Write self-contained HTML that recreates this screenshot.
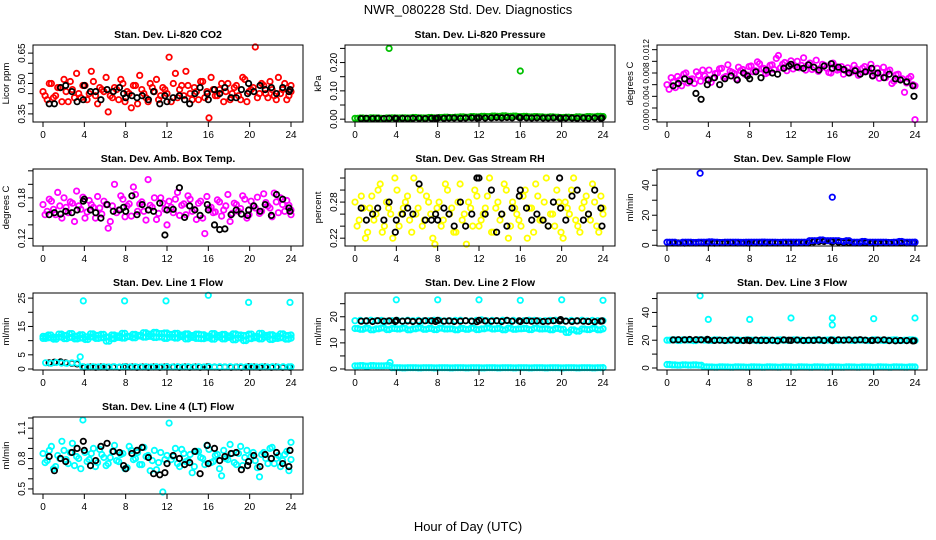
<!DOCTYPE html>
<html><head><meta charset="utf-8"><style>
body{margin:0;background:#fff}
svg{display:block;font-family:"Liberation Sans",sans-serif}
</style></head><body>
<svg id="c" width="936" height="540" viewBox="0 0 936 540">
<text x="468" y="14" text-anchor="middle" font-size="13">NWR_080228  Std. Dev. Diagnostics</text>
<text x="468" y="531" text-anchor="middle" font-size="13">Hour of Day (UTC)</text>
</svg>
<script>
const xTicks=[0,4,8,12,16,20,24];
const blackH=[0.6,1.1,1.7,2.2,2.8,3.3,3.9,4.0,4.6,5.1,5.6,6.2,6.8,7.4,7.8,8.0,8.6,9.1,9.6,10.2,10.7,11.3,11.8,12.0,12.6,13.2,13.7,14.2,14.7,15.2,15.9,16.0,16.6,17.1,17.6,18.2,18.7,19.2,19.8,19.9,20.4,21.0,21.5,22.1,22.6,23.2,23.8,23.9];
// CO2
const co2A=[0.46,0.42,0.50,0.44,0.48,0.52,0.41,0.47,0.55,0.43,0.49,0.45,0.51,0.40,0.47,0.53,0.44,0.48,0.42,0.50,0.46,0.38,0.49,0.54,0.45,0.41,0.48,0.52,0.44,0.47,0.63,0.50,0.43,0.49,0.56,0.45,0.48,0.42,0.51,0.46,0.53,0.44,0.47,0.41,0.50,0.45,0.49,0.42,0.52,0.46,0.48,0.43,0.50,0.45,0.51,0.44,0.53,0.47,0.42,0.49];
const co2B=[0.44,0.50,0.43,0.48,0.41,0.46,0.51,0.43,0.45,0.49,0.42,0.56,0.44,0.48,0.46,0.36,0.43,0.47,0.52,0.41,0.45,0.49,0.40,0.47,0.43,0.50,0.46,0.42,0.48,0.45,0.41,0.55,0.47,0.44,0.49,0.42,0.46,0.51,0.43,0.33,0.47,0.44,0.50,0.46,0.42,0.48,0.44,0.53,0.41,0.47,0.68,0.45,0.49,0.43,0.47,0.42,0.45,0.50,0.44,0.46];
const co2K=[0.40,0.40,0.48,0.49,0.46,0.41,0.42,0.49,0.46,0.46,0.42,0.47,0.46,0.48,0.45,0.43,0.44,0.43,0.44,0.42,0.46,0.40,0.44,0.41,0.43,0.44,0.42,0.40,0.45,0.48,0.45,0.42,0.47,0.45,0.48,0.43,0.43,0.47,0.45,0.50,0.46,0.49,0.47,0.48,0.45,0.48,0.46,0.47];
// Pressure
const presG=[0.003,0.004,0.003,0.005,0.004,0.003,0.004,0.005,0.004,0.005,0.004,0.006,0.005,0.004,0.006,0.005,0.006,0.007,0.006,0.007,0.008,0.007,0.009,0.008,0.010,0.009,0.011,0.010,0.012,0.010,0.011,0.009,0.010,0.008,0.009,0.008,0.007,0.008,0.007,0.006,0.007,0.006,0.008,0.007,0.009,0.008,0.010,0.009];
const presOutH=[3.3,16.0], presOutV=[0.25,0.17];
const presK=[0.002,0.003,0.002,0.003,0.002,0.003,0.003,0.002,0.003,0.002,0.003,0.003,0.002,0.003,0.003,0.004,0.003,0.004,0.004,0.003,0.004,0.005,0.004,0.005,0.004,0.005,0.006,0.005,0.006,0.005,0.006,0.005,0.005,0.004,0.005,0.004,0.004,0.005,0.004,0.003,0.004,0.004,0.003,0.004,0.003,0.004,0.003,0.004];
// Temp
const tmpA=[0.0060,0.0072,0.0055,0.0068,0.0078,0.0063,0.0070,0.0082,0.0066,0.0075,0.0085,0.0071,0.0080,0.0088,0.0074,0.0083,0.0079,0.0090,0.0086,0.0077,0.0092,0.0084,0.0096,0.0088,0.0081,0.0094,0.0105,0.0089,0.0098,0.0091,0.0087,0.0100,0.0093,0.0085,0.0097,0.0090,0.0083,0.0095,0.0088,0.0080,0.0092,0.0086,0.0078,0.0089,0.0082,0.0087,0.0079,0.0091,0.0084,0.0076,0.0088,0.0081,0.0072,0.0085,0.0066,0.0078,0.0070,0.0063,0.0074,0.0058];
const tmpB=[0.0052,0.0065,0.0074,0.0058,0.0080,0.0069,0.0062,0.0076,0.0085,0.0070,0.0064,0.0079,0.0087,0.0072,0.0094,0.0081,0.0070,0.0084,0.0078,0.0091,0.0082,0.0099,0.0087,0.0079,0.0093,0.0086,0.0110,0.0095,0.0084,0.0101,0.0092,0.0089,0.0106,0.0094,0.0086,0.0102,0.0088,0.0093,0.0081,0.0097,0.0085,0.0091,0.0084,0.0080,0.0093,0.0076,0.0088,0.0083,0.0095,0.0079,0.0071,0.0090,0.0083,0.0062,0.0077,0.0069,0.0047,0.0071,0.0060,0.0000];
const tmpK=[0.0058,0.0062,0.0070,0.0066,0.0045,0.0035,0.0060,0.0068,0.0072,0.0060,0.0070,0.0075,0.0068,0.0080,0.0075,0.0070,0.0082,0.0072,0.0085,0.0080,0.0078,0.0088,0.0092,0.0095,0.0090,0.0088,0.0094,0.0090,0.0085,0.0092,0.0096,0.0088,0.0090,0.0086,0.0080,0.0084,0.0078,0.0082,0.0088,0.0075,0.0080,0.0072,0.0078,0.0070,0.0068,0.0065,0.0058,0.0040];
// Amb box
const ambA=[0.170,0.160,0.175,0.155,0.168,0.180,0.158,0.172,0.190,0.163,0.150,0.176,0.166,0.182,0.156,0.170,0.145,0.200,0.162,0.178,0.168,0.153,0.185,0.171,0.160,0.207,0.166,0.148,0.180,0.163,0.175,0.158,0.188,0.169,0.155,0.178,0.163,0.172,0.150,0.182,0.166,0.159,0.174,0.162,0.185,0.157,0.170,0.164,0.178,0.155,0.168,0.181,0.160,0.173,0.165,0.187,0.158,0.170,0.176,0.162];
const ambB=[0.155,0.178,0.163,0.188,0.150,0.166,0.174,0.145,0.168,0.181,0.159,0.170,0.150,0.165,0.175,0.135,0.168,0.158,0.183,0.152,0.171,0.196,0.160,0.174,0.147,0.169,0.180,0.157,0.172,0.140,0.166,0.178,0.154,0.171,0.183,0.160,0.148,0.175,0.127,0.165,0.158,0.177,0.153,0.168,0.145,0.172,0.160,0.183,0.150,0.175,0.165,0.157,0.186,0.168,0.152,0.174,0.180,0.160,0.169,0.155];
const ambK=[0.155,0.158,0.156,0.160,0.158,0.162,0.175,0.178,0.162,0.158,0.150,0.170,0.160,0.162,0.166,0.160,0.183,0.155,0.170,0.162,0.160,0.172,0.125,0.162,0.163,0.195,0.151,0.168,0.162,0.154,0.170,0.162,0.140,0.133,0.134,0.155,0.162,0.156,0.154,0.162,0.168,0.160,0.170,0.154,0.185,0.178,0.165,0.160];
// RH
const rhA=[0.28,0.25,0.27,0.23,0.29,0.26,0.31,0.24,0.27,0.22,0.30,0.26,0.28,0.25,0.32,0.27,0.24,0.29,0.26,0.21,0.28,0.25,0.30,0.27,0.23,0.31,0.26,0.28,0.24,0.29,0.25,0.27,0.32,0.23,0.28,0.26,0.30,0.24,0.27,0.25,0.29,0.22,0.27,0.31,0.25,0.28,0.24,0.26,0.30,0.23,0.28,0.26,0.32,0.24,0.27,0.29,0.25,0.28,0.23,0.27];
const rhB=[0.24,0.29,0.22,0.27,0.25,0.30,0.23,0.28,0.26,0.32,0.24,0.27,0.29,0.23,0.26,0.30,0.25,0.28,0.22,0.27,0.24,0.31,0.26,0.23,0.28,0.25,0.21,0.27,0.30,0.24,0.26,0.29,0.23,0.27,0.25,0.31,0.22,0.28,0.26,0.24,0.30,0.27,0.23,0.29,0.25,0.32,0.26,0.24,0.28,0.22,0.27,0.30,0.25,0.23,0.28,0.26,0.31,0.24,0.29,0.26];
const rhK=[0.27,0.25,0.26,0.27,0.25,0.28,0.23,0.25,0.26,0.27,0.26,0.31,0.25,0.25,0.26,0.25,0.27,0.26,0.24,0.28,0.24,0.26,0.32,0.32,0.26,0.30,0.23,0.26,0.24,0.27,0.29,0.30,0.27,0.25,0.26,0.25,0.24,0.28,0.32,0.27,0.25,0.29,0.30,0.25,0.26,0.30,0.27,0.24];
// Sample flow
const sfB=[2,2,1.5,2,2,1.8,2,2,2.2,2,1.8,2,2,2,1.9,2,2,2,2.1,2,2,1.9,2,2,2,2,2,3,3,3.5,3,3,3,2.5,3,2,2,2.5,2,2,2,2,1.8,2,2.5,2,2,2];
const sfK=[1.5,1.5,1.4,1.5,1.5,1.6,1.5,1.5,1.4,1.5,1.5,1.6,1.5,1.5,1.5,1.4,1.5,1.5,1.5,1.6,1.5,1.5,1.5,1.5,1.5,1.6,1.5,2.2,2.5,2.5,2.4,2.2,2.0,1.8,1.6,1.5,1.5,1.6,1.5,1.5,1.4,1.5,1.5,1.6,1.5,1.5,1.5,1.5];
const sfOutH=[3.2,16.0], sfOutV=[48,32];
// Line 1
const l1A=[11.5,12.0,11.2,12.3,11.8,12.5,11.6,12.1,11.4,12.4,11.9,12.2,11.3,12.0,11.7,12.6,11.5,12.2,11.9,12.8,12.3,12.9,12.5,12.7,12.2,12.6,12.0,12.4,11.8,12.3,12.1,11.6,12.5,11.9,12.2,11.7,12.4,12.0,11.8,12.3,11.5,12.6,11.9,12.1,11.6,12.4,11.8,12.0];
const l1B=[10.8,11.0,10.5,11.2,10.7,11.1,10.6,10.9,10.4,11.3,10.8,11.0,9.8,10.7,11.1,10.9,11.4,11.0,11.6,11.2,11.5,11.1,11.3,10.8,11.2,10.9,11.4,10.6,11.1,10.8,10.7,11.0,10.5,11.2,10.6,11.1,10.3,10.9,10.0,10.7,11.0,10.6,11.2,10.4,10.8,11.0,10.5,10.9];
const l1Low=[2.2,2.0,2.3,2.1,2.0,2.2,2.1,0.8,0.7,0.8,0.7,0.8,0.7,0.8,0.7,0.8,0.7,0.8,0.7,0.8,0.7,0.8,0.7,0.8,0.7,0.8,0.7,0.8,0.7,0.8,0.7,0.8,0.7,0.8,0.7,0.8,0.7,0.8,0.7,0.8,0.7,0.8,0.7,0.8,0.7,0.8,0.7,0.8];
const l1K=[2.2,2.4,2.5,2.2,2.0,1.8,0.7,0.6,0.7,0.6,0.7,0.6,0.7,0.6,0.7,0.8,0.7,0.6,0.7,0.6,0.7,0.6,0.7,0.8,0.7,0.6,0.7,0.6,0.7,0.6,0.7,0.8,0.7,0.6,0.7,0.6,0.7,0.6,0.7,0.8,0.7,0.6,0.7,0.6,0.7,0.6,0.7,0.6];
const l1OutH=[3.6,3.9,7.9,11.9,16.0,19.9,23.9], l1OutV=[4.3,24,24,24,26,23.5,23.5];
// Line 2
const l2A=[18.5,18.6,18.4,18.7,18.5,18.6,18.3,18.5,18.6,18.4,18.7,18.5,18.6,18.4,18.5,18.7,18.6,18.4,18.5,18.6,18.7,18.5,18.4,18.6,18.8,18.5,18.6,18.4,18.7,18.5,18.6,18.4,18.5,18.7,18.6,18.4,18.5,18.6,18.7,18.5,18.4,18.6,18.5,18.7,18.4,18.6,18.5,18.5];
const l2B=[15.5,15.2,15.6,15.0,15.4,15.7,15.1,15.5,15.3,15.6,15.0,15.4,15.7,15.2,15.5,15.1,15.6,15.3,15.4,15.0,15.5,15.2,15.6,15.1,15.4,15.7,15.3,15.5,15.0,15.6,15.2,15.4,15.5,15.1,15.6,15.3,15.4,15.0,15.5,15.2,14.0,15.0,14.5,15.3,15.1,15.5,15.0,15.4];
const l2Low=[1.2,1.3,1.1,1.3,1.2,1.2,1.3,0.5,0.5,0.4,0.5,0.5,0.4,0.5,0.5,0.4,0.5,0.5,0.4,0.5,0.5,0.4,0.5,0.5,0.4,0.5,0.5,0.4,0.5,0.5,0.4,0.5,0.5,0.4,0.5,0.5,0.4,0.5,0.5,0.4,0.5,0.5,0.4,0.5,0.5,0.4,0.5,0.5];
const l2K=[18.3,18.4,18.2,18.5,18.3,18.4,18.2,18.6,18.3,18.4,18.2,18.3,18.5,18.4,18.2,18.6,18.3,18.4,18.2,18.3,18.5,18.3,18.1,18.6,18.4,18.3,18.5,18.2,18.6,18.3,18.4,18.2,18.5,18.3,18.4,18.2,18.3,18.5,18.4,18.9,18.3,18.2,18.4,18.3,18.2,18.1,18.3,18.4];
const l2OutH=[3.4,4.0,8.0,12.0,16.0,20.0,24.0], l2OutV=[2.5,26.5,26.5,26.5,26.3,26.5,26.3];
// Line 3
const l3A=[20.0,20.3,19.8,20.2,20.0,19.7,20.4,20.1,19.9,20.2,20.0,19.8,20.3,20.1,19.9,20.2,20.0,19.7,20.3,20.1,19.8,20.2,20.0,19.9,20.3,20.1,19.8,20.0,20.2,19.9,20.1,20.3,19.8,20.0,20.2,19.9,20.1,20.0,19.8,20.2,20.0,19.9,20.1,20.3,19.8,20.0,20.2,19.9];
const l3Low=[2.5,2.2,2.0,2.3,2.1,2.2,2.0,0.8,0.7,0.6,0.8,0.7,0.6,0.8,0.7,0.6,0.8,0.7,0.6,0.8,0.7,0.6,0.8,0.7,0.6,0.8,0.7,0.6,0.8,0.7,0.6,0.8,0.7,0.6,0.8,0.7,0.6,0.8,0.7,0.6,0.8,0.7,0.6,0.8,0.7,0.6,0.8,0.7];
const l3K=[20.2,20.4,20.3,20.5,20.4,20.3,20.6,20.2,19.9,20.0,19.8,20.1,19.9,19.8,20.0,19.7,20.1,19.9,19.8,20.0,19.6,20.2,20.0,19.9,20.1,19.8,20.0,19.9,20.2,19.8,20.1,19.7,20.3,20.0,20.2,20.1,20.4,20.0,19.9,19.8,20.1,20.3,19.7,19.6,19.8,19.7,19.5,19.6];
const l3OutH=[3.2,4.0,8.0,12.0,16.0,16.0,20.0,24.0], l3OutV=[52,35,35,36,36,31,35.5,36];
// Line 4
const l4A=[0.85,0.78,0.92,0.72,0.80,0.88,0.75,0.95,0.82,0.70,0.86,0.79,0.90,0.76,0.84,0.73,0.81,0.93,0.77,0.85,0.71,0.88,0.80,0.74,0.91,0.83,0.78,0.69,0.86,0.79,1.15,0.82,0.75,0.89,0.77,0.84,0.72,0.87,0.80,0.93,0.76,0.83,0.70,0.88,0.79,0.85,0.74,0.92,0.81,0.77,0.86,0.71,0.84,0.80,0.90,0.75,0.83,0.78,0.87,0.96];
const l4B=[0.76,0.88,0.70,0.83,0.97,0.79,0.86,0.73,0.80,1.18,0.77,0.85,0.72,0.89,0.81,0.75,0.87,0.78,0.84,0.70,0.92,0.79,0.86,0.74,0.82,0.68,0.88,0.76,0.47,0.83,0.79,0.90,0.72,0.85,0.78,0.66,0.87,0.81,0.74,0.89,0.77,0.84,0.63,0.80,0.94,0.76,0.85,0.73,0.88,0.82,0.78,0.62,0.86,0.75,0.91,0.80,0.72,0.84,0.68,0.79];
const l4K=[0.82,0.68,0.80,0.77,0.86,0.90,0.97,0.88,0.73,0.78,0.92,0.95,0.87,0.86,0.73,0.70,0.85,0.88,0.91,0.81,0.65,0.64,0.66,0.75,0.83,0.80,0.74,0.76,0.87,0.65,0.93,0.75,0.90,0.78,0.82,0.85,0.86,0.69,0.73,0.77,0.83,0.72,0.84,0.80,0.86,0.75,0.72,0.88];

const NS='http://www.w3.org/2000/svg';
const svg=document.getElementById('c');
function mk(tag,attrs,parent){const e=document.createElementNS(NS,tag);for(const k in attrs)e.setAttribute(k,attrs[k]);(parent||svg).appendChild(e);return e;}
const colL=[33,345,657], rowT=[45,169,293,417], W=270, H=77;
function grid(n,half){const a=[];const st=24/(n-1);for(let i=0;i<n;i++){let v=i*st+(half?st/2:0);a.push(Math.min(v,24));}return a;}
function panel(key,col,row,title,ylab,ymin,ymax,ticks,labels,series,lfs){
  const g=mk('g',{});
  
  
  const L=colL[col],T=rowT[row];
  const sx=h=>L+10+h*(W-22)/24;
  const sy=v=>T+H-(v-ymin)/(ymax-ymin)*H;
  const t=mk('text',{x:L+W/2,y:T-7,'text-anchor':'middle','font-size':'10.5','font-weight':'bold'},g);
  t.textContent=title;
  
  
  const yl=mk('text',{transform:`translate(${L-24},${T+H/2}) rotate(-90)`,'text-anchor':'middle','font-size':'9.5'},g);
  yl.textContent=ylab;
  
  
  const pts=mk('g',{fill:'none','stroke-width':'1.8'},g);
  
  
  series.forEach(s=>{
    const xs=s.x||grid(s.y.length,s.half);
    s.y.forEach((v,i)=>{
      const c=mk('circle',{cx:sx(xs[i]).toFixed(1),cy:sy(v).toFixed(1),r:2.7,stroke:s.c},pts);
      
      
    });
  });
  const box=mk('rect',{x:L,y:T,width:W,height:H,fill:'none',stroke:'#000','stroke-width':'1'},g);
  
  
  xTicks.forEach(h=>{
    mk('line',{x1:sx(h),x2:sx(h),y1:T+H,y2:T+H+5,stroke:'#000'},g);
    const tx=mk('text',{x:sx(h),y:T+H+16,'text-anchor':'middle','font-size':'10'},g);
    tx.textContent=h;
    
    
  });
  ticks.forEach(v=>{
    mk('line',{x1:L,x2:L-5,y1:sy(v),y2:sy(v),stroke:'#000'},g);
  });
  labels.forEach(lb=>{
    const ty=mk('text',{transform:`translate(${L-8},${sy(parseFloat(lb))}) rotate(-90)`,'text-anchor':'middle','font-size':lfs||'10'},g);
    ty.textContent=lb;
    
    
  });
}
const R='#ff0000',K='#000000',G='#00c000',M='#ff00ff',Y='#ffff00',B='#0000ff',C='#00ffff';
panel('co2',0,0,'Stan. Dev. Li-820 CO2','Licor ppm',0.31,0.69,[0.35,0.40,0.45,0.50,0.55,0.60,0.65],['0.35','0.50','0.65'],
 [{y:co2A,c:R},{y:co2B,c:R,half:1},{x:blackH,y:co2K,c:K}]);
panel('pressure',1,0,'Stan. Dev. Li-820 Pressure','kPa',-0.01,0.262,[0,0.05,0.10,0.15,0.20,0.25],['0.00','0.10','0.20'],
 [{y:presG,c:G},{y:presG,c:G,half:1},{x:presOutH,y:presOutV,c:G},{x:blackH,y:presK,c:K}]);
panel('temp',2,0,'Stan. Dev. Li-820 Temp.','degrees C',-0.0004,0.0128,[0,0.002,0.004,0.006,0.008,0.010,0.012],['0.000','0.004','0.008','0.012'],
 [{y:tmpA,c:M},{y:tmpB,c:M,half:1},{x:blackH,y:tmpK,c:K}],'8.5');
panel('amb-box',0,1,'Stan. Dev. Amb. Box Temp.','degrees C',0.1087,0.2227,[0.12,0.14,0.16,0.18,0.20,0.22],['0.12','0.18'],
 [{y:ambA,c:M},{y:ambB,c:M,half:1},{x:blackH,y:ambK,c:K}]);
panel('rh',1,1,'Stan. Dev. Gas Stream RH','percent',0.207,0.335,[0.22,0.24,0.26,0.28,0.30,0.32],['0.22','0.28'],
 [{y:rhA,c:Y},{y:rhB,c:Y,half:1},{x:blackH,y:rhK,c:K}]);
panel('sample-flow',2,1,'Stan. Dev. Sample Flow','ml/min',-0.5,50.8,[0,10,20,30,40,50],['0','20','40'],
 [{y:sfB,c:B},{x:blackH,y:sfK,c:K},{y:sfB,c:B,half:1},{x:sfOutH,y:sfOutV,c:B}]);
panel('line1',0,2,'Stan. Dev. Line 1 Flow','ml/min',-0.35,26.8,[0,5,10,15,20,25],['0','5','15','25'],
 [{y:l1A,c:C},{y:l1B,c:C,half:1},{y:l1A,c:C,half:1},{y:l1B,c:C},{x:blackH,y:l1K,c:K},{y:l1Low,c:C,half:1},{x:l1OutH,y:l1OutV,c:C}]);
panel('line2',1,2,'Stan. Dev. Line 2 Flow','ml/min',-0.39,29.1,[0,5,10,15,20,25],['0','10','20'],
 [{y:l2A,c:C},{y:l2B,c:C},{y:l2B,c:C,half:1},{x:blackH,y:l2K,c:K},{y:l2Low,c:C},{y:l2Low,c:C,half:1},{x:l2OutH,y:l2OutV,c:C}]);
panel('line3',2,2,'Stan. Dev. Line 3 Flow','ml/min',-1.45,54,[0,10,20,30,40,50],['0','20','40'],
 [{y:l3A,c:C},{y:l3A,c:C,half:1},{x:blackH,y:l3K,c:K},{y:l3Low,c:C},{y:l3Low,c:C,half:1},{x:l3OutH,y:l3OutV,c:C}]);
panel('line4',0,3,'Stan. Dev. Line 4 (LT) Flow','ml/min',0.45,1.21,[0.5,0.6,0.7,0.8,0.9,1.0,1.1,1.2],['0.5','0.8','1.1'],
 [{y:l4A,c:C},{y:l4B,c:C,half:1},{x:blackH,y:l4K,c:K}]);
</script>
</body></html>
